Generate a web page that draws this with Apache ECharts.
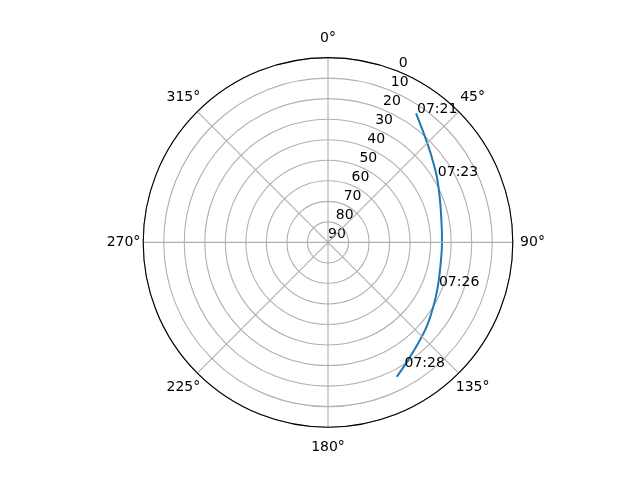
<!DOCTYPE html>
<html>
<head>
<meta charset="utf-8">
<script src="https://cdn.jsdelivr.net/npm/echarts@6/dist/echarts.min.js"></script>
<style>
  html, body { margin: 0; padding: 0; background: #fff; }
  #main { width: 640px; height: 480px; }
</style>
</head>
<body>
<div id="main"></div>
<script>
// 卫星过境轨迹 (方位角 / 仰角)
var azimuth   = [34.3, 40.1, 44.4, 50.4, 58.9, 69.3, 82.1, 90.5, 98.9, 111.6, 121.4, 130.5, 138.2, 145.7, 148.8, 152.9];
var elevation = [13.9, 18.5, 21.3, 24.5, 28.1, 31.7, 34.1, 34.5, 34.3, 32.4, 29.9, 26.8, 24.1, 20.7, 19.0, 16.5];
var timeLabel = ['07:21', '', '', '', '07:23', '', '', '', '', '07:26', '', '', '', '', '07:28', ''];
var radiusTicks = [0, 10, 20, 30, 40, 50, 60, 70, 80, 90];
var angleTicks = [0, 45, 90, 135, 180, 225, 270, 315];
var radiusLabelAngle = 22.5;

var font = 'DejaVu Sans';
var center = [328, 242.4];

var chart = echarts.init(document.getElementById('main'), null, { renderer: 'canvas' });

var track = azimuth.map(function (az, i) {
  return {
    value: [elevation[i], az],
    label: {
      show: timeLabel[i] !== '',
      formatter: timeLabel[i]
    }
  };
});

var hidden = { show: false };

var option = {
  backgroundColor: '#fff',
  animation: false,
  polar: [
    { center: center, radius: 184.8 },
    // 外圈, 只用来放角度标签
    { center: center, radius: 204.5 }
  ],
  angleAxis: [
    {
      polarIndex: 0,
      type: 'value',
      min: 0,
      max: 360,
      interval: 45,
      startAngle: 90,
      clockwise: true,
      z: 5,
      axisLine: { show: true, lineStyle: { color: '#000', width: 1.1 } },
      axisTick: hidden,
      axisLabel: hidden,
      splitLine: { show: true, lineStyle: { color: '#b0b0b0', width: 1.1 } }
    },
    {
      polarIndex: 1,
      type: 'value',
      min: 0,
      max: 360,
      startAngle: 90,
      clockwise: true,
      axisLine: hidden,
      axisTick: hidden,
      axisLabel: hidden,
      splitLine: hidden
    }
  ],
  radiusAxis: [
    {
      polarIndex: 0,
      type: 'value',
      min: 0,
      max: 90,
      interval: 10,
      inverse: true,
      axisLine: hidden,
      axisTick: hidden,
      axisLabel: hidden,
      splitLine: { show: true, lineStyle: { color: '#b0b0b0', width: 1.1 } }
    },
    {
      polarIndex: 1,
      type: 'value',
      min: 0,
      max: 1,
      axisLine: hidden,
      axisTick: hidden,
      axisLabel: hidden,
      splitLine: hidden
    }
  ],
  series: [
    {
      type: 'line',
      coordinateSystem: 'polar',
      polarIndex: 0,
      data: track,
      smooth: 0.3,
      symbol: 'circle',
      symbolSize: 0,
      showSymbol: true,
      z: 3,
      itemStyle: { color: '#1f77b4', opacity: 0 },
      lineStyle: { color: '#1f77b4', width: 2 },
      label: {
        position: [0, 0],
        align: 'left',
        verticalAlign: 'middle',
        offset: [1, -4],
        color: '#000',
        opacity: 1,
        fontFamily: font,
        fontSize: 14
      }
    },
    {
      // 仰角刻度标签
      type: 'scatter',
      coordinateSystem: 'polar',
      polarIndex: 0,
      symbolSize: 0,
      silent: true,
      z: 4,
      itemStyle: { opacity: 1 },
      data: radiusTicks.map(function (t) { return [t, radiusLabelAngle]; }),
      label: {
        show: true,
        position: [0, 0],
        align: 'left',
        verticalAlign: 'middle',
        offset: [0, -8],
        color: '#000',
        fontFamily: font,
        fontSize: 14,
        formatter: function (p) { return String(p.value[0]); }
      }
    },
    {
      // 方位角刻度标签
      type: 'scatter',
      coordinateSystem: 'polar',
      polarIndex: 1,
      symbolSize: 0,
      silent: true,
      z: 4,
      itemStyle: { opacity: 1 },
      data: angleTicks.map(function (a) { return [1, a]; }),
      label: {
        show: true,
        position: [0, 0],
        align: 'center',
        verticalAlign: 'middle',
        color: '#000',
        fontFamily: font,
        fontSize: 14,
        formatter: function (p) { return p.value[1] + '°'; }
      }
    }
  ]
};

chart.setOption(option);
</script>
</body>
</html>
